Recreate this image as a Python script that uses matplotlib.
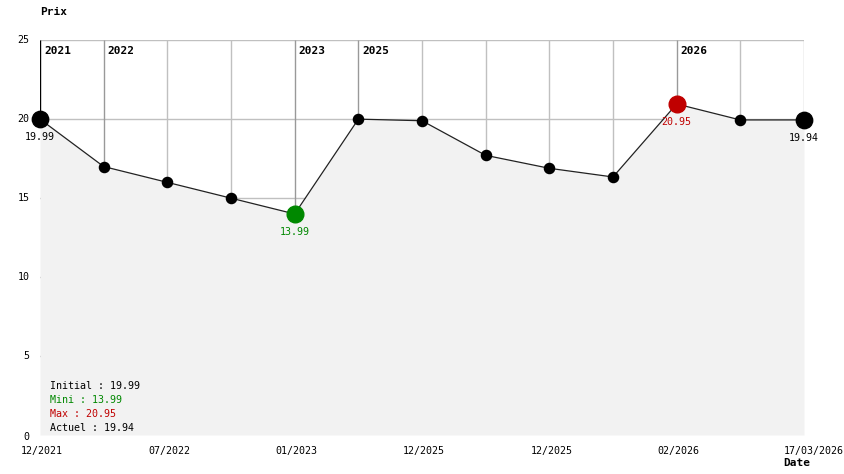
import numpy as np
import matplotlib
matplotlib.use("Agg")
import matplotlib.pyplot as plt

# valeurs (points équidistants)
prix = [19.99, 16.99, 15.99, 14.99, 13.99, 19.99, 19.89, 17.7, 16.88, 16.33, 20.95, 19.94, 19.94]
annees = {0: "2021", 1: "2022", 4: "2023", 5: "2025", 10: "2026"}
dates = {0: "12/2021", 2: "07/2022", 4: "01/2023", 6: "12/2025", 8: "12/2025",
         10: "02/2026", 12: "17/03/2026"}
yticks = [0, 5, 10, 15, 20, 25]

x = np.arange(len(prix))
i_min = int(np.argmin(prix))
i_max = int(np.argmax(prix))
vert = "#008800"
rouge = "#c00000"
fs = 7.2

plt.rcParams['font.family'] = ['DejaVu Sans Mono']
fig = plt.figure(figsize=(8.44, 4.74), dpi=100)
ax = fig.add_axes([40 / 844, 39 / 474, 764 / 844, 395 / 474])
ax.set_xlim(0, len(prix) - 1)
ax.set_ylim(0, 25)
for s in ax.spines.values():
    s.set_visible(False)
ax.set_xticks([])
ax.set_yticks([])

# grille
for yv in yticks[1:]:
    ax.axhline(yv, color="#c0c0c0", lw=1, zorder=1)
for i in x:
    if i == 0:
        c = "black"
    elif i in annees:
        c = "#999999"
    else:
        c = "#c0c0c0"
    ax.vlines(i, prix[i], 25, color=c, lw=1, zorder=1)

# zone et courbe
ax.fill_between(x, prix, 0, color="#f2f2f2", lw=0, zorder=2)
ax.plot(x, prix, color="#222222", lw=0.9, zorder=3)

for i, v in enumerate(prix):
    if i == i_min:
        ax.plot(i, v, "o", ms=12, color=vert, zorder=4, clip_on=False)
    elif i == i_max:
        ax.plot(i, v, "o", ms=12, color=rouge, zorder=4, clip_on=False)
    elif i == 0 or i == len(prix) - 1:
        ax.plot(i, v, "o", ms=11.8, color="black", zorder=4, clip_on=False)
    else:
        ax.plot(i, v, "o", ms=7.3, color="black", zorder=4, clip_on=False)

# étiquettes des valeurs
for i, col in [(0, "black"), (i_min, vert), (i_max, rouge), (len(prix) - 1, "black")]:
    ax.annotate(f"{prix[i]:.2f}", (i, prix[i]), xytext=(0, -13.2), textcoords="offset points",
                ha="center", va="center", fontsize=fs, color=col, zorder=5)

# années
for i, a in annees.items():
    ax.annotate(a, (i, 25), xytext=(3, -8), textcoords="offset points",
                ha="left", va="center", fontsize=8, fontweight="bold", zorder=5)

# axe y
for yv in yticks:
    ax.annotate(str(yv), (0, yv), xytext=(-7.5, -1.5 if yv == 0 else 0),
                textcoords="offset points", ha="right", va="center", fontsize=fs,
                annotation_clip=False)

# axe x
for i, d in dates.items():
    if i == len(prix) - 1:
        ax.annotate(d, (i, 0), xytext=(29, -11.5), textcoords="offset points",
                    ha="right", va="center", fontsize=fs, annotation_clip=False)
    else:
        ax.annotate(d, (i, 0), xytext=(1.5, -11.5), textcoords="offset points",
                    ha="center", va="center", fontsize=fs, annotation_clip=False)

# légende
infos = [("Initial : %.2f" % prix[0], "black"), ("Mini : %.2f" % prix[i_min], vert),
         ("Max : %.2f" % prix[i_max], rouge), ("Actuel : %.2f" % prix[-1], "black")]
for k, (t, col) in enumerate(infos):
    fig.text(50 / 844, 1 - (386 + 14 * k) / 474, t, fontsize=fs, color=col, va="center")

fig.text(40 / 844, 1 - 12 / 474, "Prix", fontsize=8, fontweight="bold", va="center")
fig.text(783 / 844, 1 - 463 / 474, "Date", fontsize=8, fontweight="bold", va="center")

fig.savefig("out.png", dpi=100)
